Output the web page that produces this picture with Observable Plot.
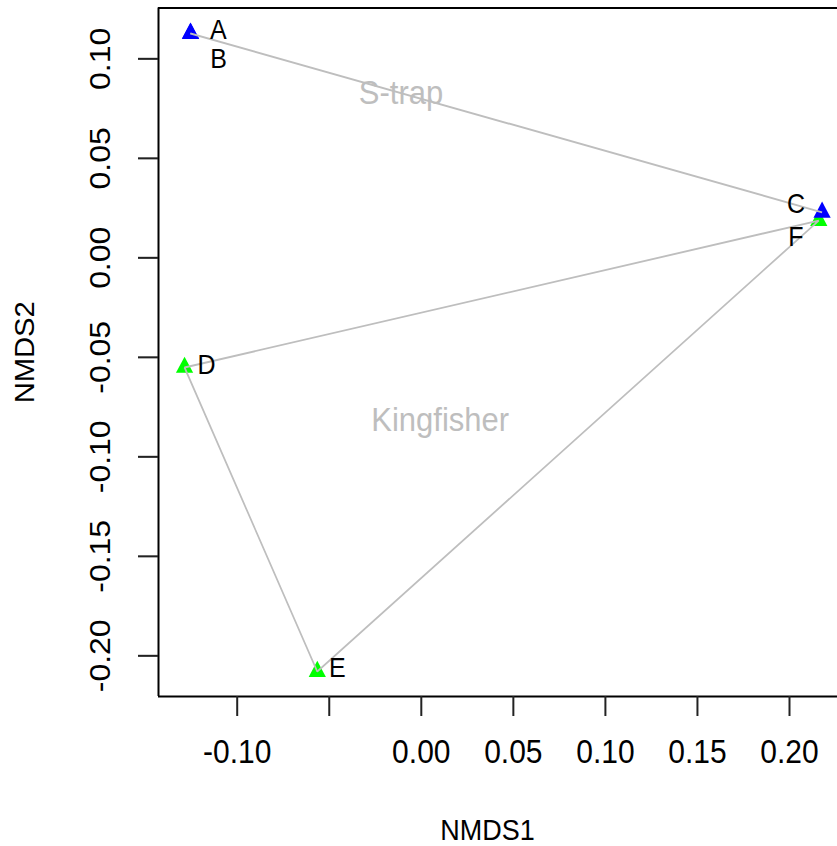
<!DOCTYPE html>
<html>
<head>
<meta charset="utf-8">
<script src="https://cdn.jsdelivr.net/npm/d3@7"></script>
<script src="https://cdn.jsdelivr.net/npm/@observablehq/plot@0.6"></script>
<style>
  body { margin: 0; background: #fff; }
  #chart { width: 837px; height: 846px; overflow: hidden; }
</style>
</head>
<body>
<div id="chart"></div>
<script>
// NMDS site scores, one entry per site
const sites   = ["A", "B", "C", "D", "E", "F"];
const habitat = ["S-trap", "S-trap", "S-trap", "Kingfisher", "Kingfisher", "Kingfisher"];
const nmds1   = [-0.1254, -0.1253, 0.2177, -0.1286, -0.0565, 0.2159];
const nmds2   = [ 0.1128,  0.1127, 0.0229, -0.0551, -0.2079, 0.0187];

// Habitat groups and their point colours
const groups      = ["Kingfisher", "S-trap"];
const groupColors = ["#00ff00", "#0000ff"];

// Axis ticks (the -0.05 label on NMDS1 is left out)
const xTicks      = [-0.10, -0.05, 0.00, 0.05, 0.10, 0.15, 0.20];
const xTickLabels = ["-0.10", null, "0.00", "0.05", "0.10", "0.15", "0.20"];
const yTicks      = [0.10, 0.05, 0.00, -0.05, -0.10, -0.15, -0.20];
const yTickLabels = ["0.10", "0.05", "0.00", "-0.05", "-0.10", "-0.15", "-0.20"];

const rows = sites.map((site, i) => ({site, habitat: habitat[i], NMDS1: nmds1[i], NMDS2: nmds2[i]}));
const xLabelRows = xTicks.map((v, i) => ({v, label: xTickLabels[i]})).filter(d => d.label !== null);
const yLabelRows = yTicks.map((v, i) => ({v, label: yTickLabels[i]}));

// Plot region limits
const xDomain = [-0.14275, 0.22607];
const yDomain = [-0.22045, 0.12553];

// The device is taller than wide per unit; draw with equal units, then stretch vertically
const stretch = 1.0812;
const H = 846 / stretch;

// Where each site name sits relative to its point (pixels, before the stretch)
const labelNudge = {A: [28, -2.8], B: [28, 24], C: [-26, -7.4], D: [22, -1.8], E: [20, -2.8], F: [-23, 15.7]};

const font = "'Liberation Sans', Arial, Helvetica, sans-serif";
const ink = "#000";

const chart = Plot.plot({
  width: 837,
  height: H,
  marginLeft: 158,
  marginRight: 0,
  marginTop: 7.5 / stretch,
  marginBottom: H - 696 / stretch,
  style: {fontFamily: font, background: "#fff", transform: `scaleY(${stretch})`, transformOrigin: "0 0"},
  x: {domain: xDomain},
  y: {domain: yDomain},
  color: {domain: groups, range: groupColors},
  marks: [
    // box on left, top and bottom
    Plot.ruleX([xDomain[0]], {stroke: ink, strokeWidth: 2}),
    Plot.ruleY([yDomain[0]], {stroke: ink, strokeWidth: 1.9}),
    Plot.ruleY([yDomain[1]], {stroke: ink, strokeWidth: 1.9}),
    // tick marks
    Plot.axisX(xTicks, {anchor: "bottom", tickSize: 20 / stretch, fill: "none", stroke: "#222", strokeWidth: 2, label: null}),
    Plot.axisY(yTicks, {anchor: "left", tickSize: 20, fill: "none", stroke: "#222", strokeWidth: 1.9, label: null}),
    // tick labels
    Plot.text(xLabelRows, {x: "v", text: "label", frameAnchor: "bottom", dy: 56 / stretch, fontSize: 30, fill: ink, textAnchor: "middle", lineAnchor: "middle"}),
    Plot.text(yLabelRows, {y: "v", text: "label", frameAnchor: "left", dx: -58, rotate: -90, fontSize: 29.5, fill: ink, textAnchor: "middle", lineAnchor: "middle"}),
    // axis titles
    Plot.text(["NMDS1"], {text: d => d, frameAnchor: "bottom", dx: -10.5, dy: 134 / stretch, fontSize: 27, fill: ink, textAnchor: "middle", lineAnchor: "middle"}),
    Plot.text(["NMDS2"], {text: d => d, frameAnchor: "left", dx: -133, rotate: -90, fontSize: 27, fill: ink, textAnchor: "middle", lineAnchor: "middle"}),
    // site points
    Plot.dot(rows, {
      x: "NMDS1", y: "NMDS2", fill: "habitat", symbol: "triangle", r: 6.4, stroke: null,
      sort: (a, b) => groups.indexOf(a.habitat) - groups.indexOf(b.habitat)
    }),
    // convex hull of each habitat
    Plot.hull(rows, {x: "NMDS1", y: "NMDS2", z: "habitat", stroke: "#bebebe", strokeWidth: 1.7}),
    // site names
    ...sites.map(s => Plot.text(rows.filter(d => d.site === s), {
      x: "NMDS1", y: "NMDS2", text: "site", dx: labelNudge[s][0], dy: labelNudge[s][1],
      fontSize: 25, fill: ink, textAnchor: "middle", lineAnchor: "middle"
    })),
    // habitat names at group centroids
    Plot.text(rows, Plot.groupZ(
      {x: "mean", y: "mean", text: "first"},
      {x: "NMDS1", y: "NMDS2", z: "habitat", text: "habitat", fill: "#bebebe", fontSize: 31, textAnchor: "middle", lineAnchor: "middle"}
    ))
  ]
});

document.getElementById("chart").appendChild(chart);
</script>
</body>
</html>
